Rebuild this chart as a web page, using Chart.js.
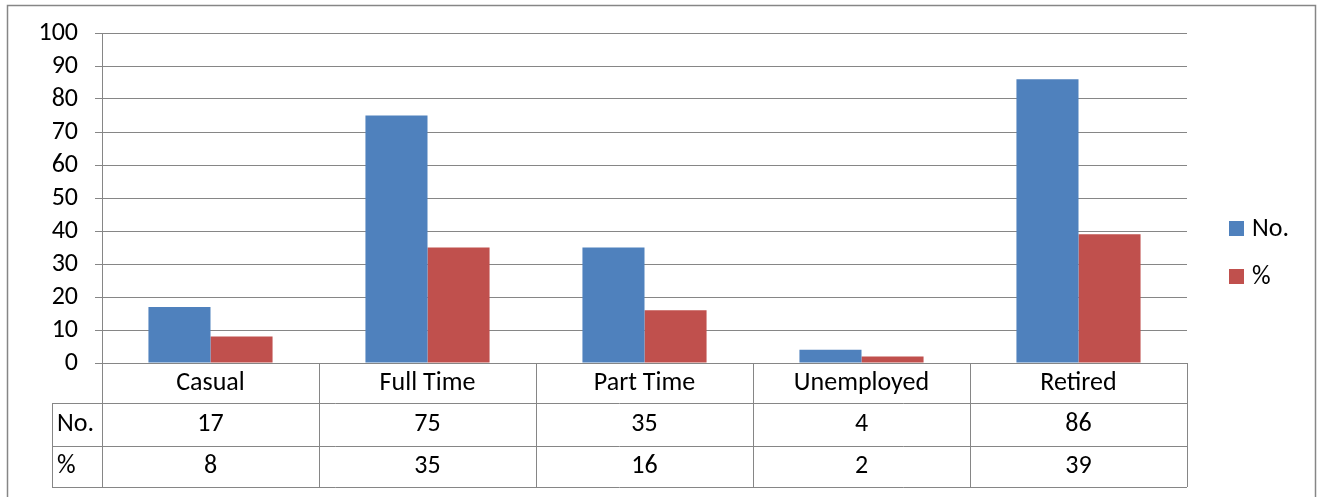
<!DOCTYPE html>
<html>
<head>
<meta charset="utf-8">
<script src="https://cdn.jsdelivr.net/npm/chart.js@4/dist/chart.umd.min.js"></script>
<style>
  html, body { margin: 0; padding: 0; background: #fff; }
  #wrap { width: 1322px; height: 497px; }
</style>
</head>
<body>
<div id="wrap"><canvas id="chart" width="1322" height="497"></canvas></div>
<script>
// Employment status data ======================================
const categories = ["Casual", "Full Time", "Part Time", "Unemployed", "Retired"];
const seriesNames = ["No.", "%"];
const countValues = [17, 75, 35, 4, 86];
const percentValues = [8, 35, 16, 2, 39];
const yTicks = [0, 10, 20, 30, 40, 50, 60, 70, 80, 90, 100];

const FONT = 'Calibri, Carlito, "Open Sans", sans-serif';
const FONT_SIZE = 26;
const LINE = "#868686";
const seriesColors = ["#4F81BD", "#C0504D"];

// Data table under the plot + outer frame + legend =============
const tableRows = [countValues, percentValues];

const extrasPlugin = {
  id: "extras",
  afterDraw(chart) {
    const { ctx, chartArea, scales: { x } } = chart;
    const left = chartArea.left, right = chartArea.right, base = chartArea.bottom;
    const rowH = [40, 43, 41];
    const keyLeft = 52;
    const y1 = base + rowH[0];
    const y2 = y1 + rowH[1];
    const y3 = y2 + rowH[2];
    const step = (right - left) / categories.length;

    ctx.save();
    ctx.strokeStyle = LINE;
    ctx.lineWidth = 1;
    ctx.beginPath();
    // horizontal rules
    [y1, y2, y3].forEach((y) => {
      ctx.moveTo(keyLeft, y + 0.5);
      ctx.lineTo(right, y + 0.5);
    });
    // key column edge
    ctx.moveTo(keyLeft + 0.5, y1);
    ctx.lineTo(keyLeft + 0.5, y3);
    // category dividers
    for (let i = 0; i <= categories.length; i++) {
      const xx = Math.round(left + i * step) + 0.5;
      ctx.moveTo(xx, base);
      ctx.lineTo(xx, y3);
    }
    ctx.stroke();

    ctx.fillStyle = "#000";
    ctx.font = FONT_SIZE + "px " + FONT;
    ctx.textBaseline = "middle";
    ctx.textAlign = "center";
    categories.forEach((c, i) => {
      const cx = x.getPixelForValue(i);
      ctx.fillText(c, cx, base + rowH[0] / 2);
      ctx.fillText(String(tableRows[0][i]), cx, y1 + rowH[1] / 2);
      ctx.fillText(String(tableRows[1][i]), cx, y2 + rowH[2] / 2);
    });
    ctx.textAlign = "left";
    ctx.fillText(seriesNames[0], keyLeft + 5, y1 + rowH[1] / 2);
    ctx.fillText(seriesNames[1], keyLeft + 5, y2 + rowH[2] / 2);

    // legend
    chart.data.datasets.forEach((ds, i) => {
      const ly = 221 + i * 48;
      ctx.fillStyle = ds.backgroundColor;
      ctx.fillRect(1229, ly, 15, 15);
      ctx.fillStyle = "#000";
      ctx.fillText(ds.label, 1252, ly + 8);
    });

    // outer frame
    ctx.strokeStyle = LINE;
    ctx.lineWidth = 1.5;
    ctx.strokeRect(7.5, 5.5, 1308, 500);
    ctx.restore();
  },
};

const chart = new Chart(document.getElementById("chart"), {
  type: "bar",
  data: {
    labels: categories,
    datasets: [
      { label: seriesNames[0], data: countValues, backgroundColor: seriesColors[0] },
      { label: seriesNames[1], data: percentValues, backgroundColor: seriesColors[1] },
    ],
  },
  options: {
    responsive: false,
    animation: false,
    events: [],
    layout: { padding: { left: 0, top: 33, right: 135, bottom: 134 } },
    datasets: {
      bar: { categoryPercentage: 0.572, barPercentage: 1, borderWidth: 0 },
    },
    plugins: {
      legend: { display: false },
      tooltip: { enabled: false },
    },
    scales: {
      x: { display: false },
      y: {
        min: 0,
        max: 100,
        afterBuildTicks(scale) {
          scale.ticks = yTicks.map((v) => ({ value: v }));
        },
        afterFit(scale) {
          scale.width = 102;
        },
        border: { display: true, color: LINE, width: 1 },
        grid: { color: LINE, lineWidth: 1, drawTicks: true, tickLength: 7 },
        ticks: {
          color: "#000",
          padding: 17,
          autoSkip: false,
          font: { family: FONT, size: FONT_SIZE },
        },
      },
    },
  },
  plugins: [extrasPlugin],
});
</script>
</body>
</html>
